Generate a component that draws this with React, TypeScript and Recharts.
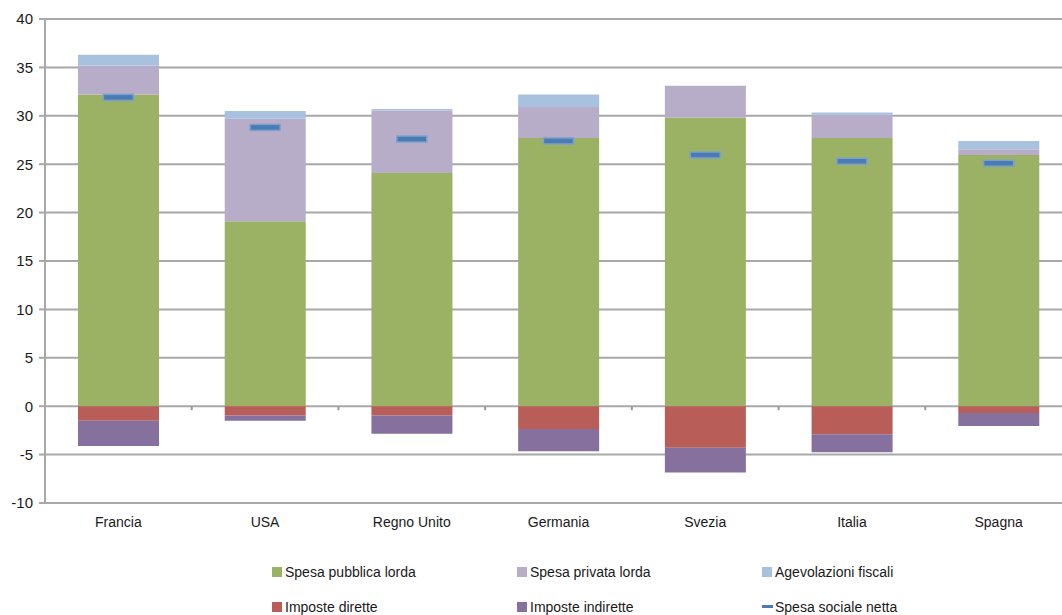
import React from "react";
import {
  ComposedChart,
  Bar,
  Line,
  XAxis,
  YAxis,
  CartesianGrid,
  ReferenceLine,
} from "recharts";

const paesi = ["Francia", "USA", "Regno Unito", "Germania", "Svezia", "Italia", "Spagna"];
const spesaPubblica = [32.2, 19.1, 24.1, 27.7, 29.8, 27.7, 25.95];
const spesaPrivata = [3.0, 10.6, 6.45, 3.2, 3.3, 2.4, 0.6];
const agevolazioni = [1.1, 0.8, 0.15, 1.3, 0, 0.25, 0.85];
const imposteDirette = [-1.5, -0.95, -0.95, -2.35, -4.3, -2.9, -0.7];
const imposteIndirette = [-2.6, -0.55, -1.9, -2.3, -2.55, -1.85, -1.35];
const spesaNetta = [31.9, 28.8, 27.6, 27.4, 25.95, 25.3, 25.1];
const yTicks = [-10, -5, 0, 5, 10, 15, 20, 25, 30, 35, 40];

const colors = {
  pubblica: "#9bb163",
  privata: "#b8adc9",
  agevolazioni: "#a7c1de",
  dirette: "#b85d58",
  indirette: "#85709e",
  netta: "#4a7bb3",
};

const legendItems = [
  { label: "Spesa pubblica lorda", color: colors.pubblica, kind: "box" },
  { label: "Spesa privata lorda", color: colors.privata, kind: "box" },
  { label: "Agevolazioni fiscali", color: colors.agevolazioni, kind: "box" },
  { label: "Imposte dirette", color: colors.dirette, kind: "box" },
  { label: "Imposte indirette", color: colors.indirette, kind: "box" },
  { label: "Spesa sociale netta", color: colors.netta, kind: "line" },
];

const data = paesi.map((paese, i) => ({
  paese,
  pubblica: spesaPubblica[i],
  privata: spesaPrivata[i],
  agevolazioni: agevolazioni[i],
  dirette: imposteDirette[i],
  indirette: imposteIndirette[i],
  netta: spesaNetta[i],
}));

const font = '"Liberation Sans", Arial, sans-serif';
const gridColor = "#a8a8a8";

// short horizontal dash marking net social spending
const NetMarker = (props: any) => {
  const { cx, cy } = props;
  if (cx == null || cy == null) return null;
  return (
    <rect
      x={cx - 15}
      y={cy - 3}
      width={30}
      height={6}
      fill={colors.netta}
      stroke="#7ca0cc"
      strokeWidth={1.5}
    />
  );
};

// zero axis: only small ticks between categories (the line itself comes from the grid)
const ZeroTicks = (props: any) => {
  const { x1, x2, y1 } = props;
  if (x1 == null || x2 == null || y1 == null) return null;
  const step = (x2 - x1) / paesi.length;
  return (
    <g>
      {paesi.slice(1).map((_, i) => {
        const x = x1 + step * (i + 1);
        return <line key={i} x1={x} x2={x} y1={y1} y2={y1 + 4} stroke="#9a9a9a" strokeWidth={2} />;
      })}
    </g>
  );
};

const ChartLegend = () => (
  <div
    style={{
      position: "absolute",
      left: 0,
      top: 554,
      width: 1080,
      display: "flex",
      flexWrap: "wrap",
      paddingLeft: 272,
      boxSizing: "border-box",
      fontFamily: font,
      fontSize: 14,
      color: "#1a1a1a",
    }}
  >
    {legendItems.map((item) => (
      <div
        key={item.label}
        style={{ width: 245, height: 35, display: "flex", alignItems: "center" }}
      >
        {item.kind === "box" ? (
          <span style={{ display: "inline-block", width: 10, height: 10, background: item.color, marginRight: 3 }} />
        ) : (
          <span style={{ display: "inline-block", width: 11, height: 3, background: item.color, marginRight: 2 }} />
        )}
        <span>{item.label}</span>
      </div>
    ))}
  </div>
);

export default function App() {
  return (
    <div
      style={{
        position: "absolute",
        left: 0,
        top: 0,
        width: 1062,
        height: 615,
        overflow: "hidden",
        background: "#ffffff",
      }}
    >
      <ComposedChart
        width={1080}
        height={620}
        data={data}
        stackOffset="sign"
        barCategoryGap="22.5%"
        margin={{ top: 19, right: 8, left: 0, bottom: 0 }}
      >
        <CartesianGrid vertical={false} stroke={gridColor} strokeWidth={2} />
        <XAxis
          dataKey="paese"
          axisLine={false}
          tickLine={false}
          tickSize={0}
          tickMargin={14}
          height={117}
          interval={0}
          tick={{ fill: "#1a1a1a", fontSize: 14, fontFamily: font }}
        />
        <YAxis
          domain={[-10, 40]}
          ticks={yTicks}
          width={45}
          axisLine={{ stroke: gridColor, strokeWidth: 2 }}
          tickLine={{ stroke: gridColor, strokeWidth: 2 }}
          tickSize={6}
          tickMargin={6}
          tick={{ fill: "#1a1a1a", fontSize: 15, fontFamily: font }}
        />
        <Bar dataKey="pubblica" stackId="a" fill={colors.pubblica} isAnimationActive={false} />
        <Bar dataKey="privata" stackId="a" fill={colors.privata} isAnimationActive={false} />
        <Bar dataKey="agevolazioni" stackId="a" fill={colors.agevolazioni} isAnimationActive={false} />
        <Bar dataKey="dirette" stackId="a" fill={colors.dirette} isAnimationActive={false} />
        <Bar dataKey="indirette" stackId="a" fill={colors.indirette} isAnimationActive={false} />
        <ReferenceLine y={0} shape={<ZeroTicks />} />
        <Line
          dataKey="netta"
          stroke="none"
          dot={<NetMarker />}
          activeDot={false}
          isAnimationActive={false}
        />
      </ComposedChart>
      <ChartLegend />
    </div>
  );
}
